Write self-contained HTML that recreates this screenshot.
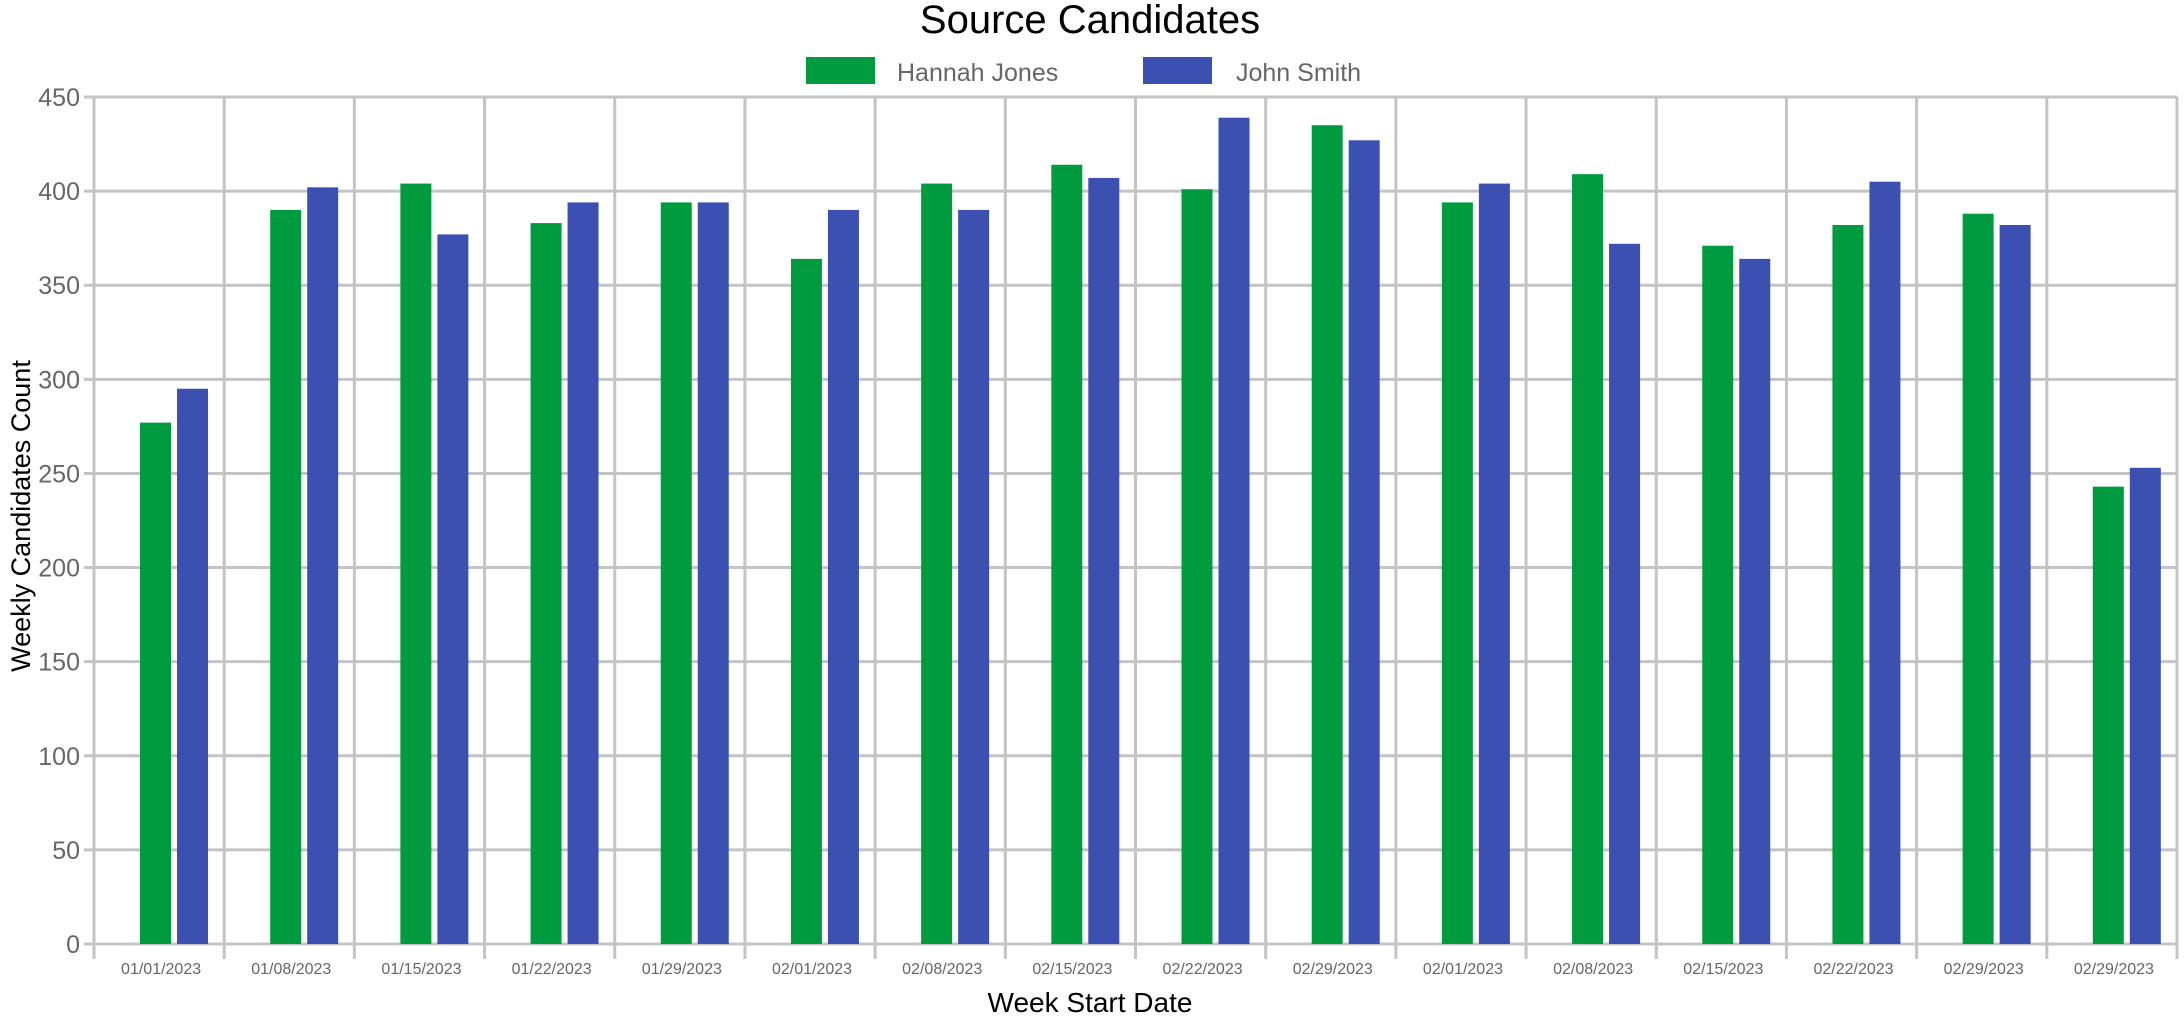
<!DOCTYPE html>
<html><head><meta charset="utf-8"><style>
html,body{margin:0;padding:0;background:#fff;}
svg{display:block;font-family:"Liberation Sans",sans-serif;}
</style></head><body>
<svg id="chart" width="2184" height="1019" viewBox="0 0 2184 1019">
<text x="1090" y="33" font-size="40" text-anchor="middle" fill="#000">Source Candidates</text>
<g>
<rect x="806" y="57" width="69" height="27" fill="#009b3e"/>
<text x="897" y="81" font-size="25" fill="#666">Hannah Jones</text>
<rect x="1143" y="57" width="69" height="27" fill="#3b50b0"/>
<text x="1236" y="81" font-size="25" fill="#666">John Smith</text>
</g>
<g id="grid"></g>
<g id="bars"></g>
<g id="labels"></g>
<text transform="translate(30,516) rotate(-90)" x="0" y="0" font-size="27" text-anchor="middle" fill="#000">Weekly Candidates Count</text>
<text x="1090" y="1012" font-size="28" text-anchor="middle" fill="#000">Week Start Date</text>
</svg>
<script>
const categories = ["01/01/2023","01/08/2023","01/15/2023","01/22/2023","01/29/2023","02/01/2023","02/08/2023","02/15/2023","02/22/2023","02/29/2023","02/01/2023","02/08/2023","02/15/2023","02/22/2023","02/29/2023","02/29/2023"];
const hannahJones = [277,390,404,383,394,364,404,414,401,435,394,409,371,382,388,243];
const johnSmith = [295,402,377,394,394,390,390,407,439,427,404,372,364,405,382,253];
const yTicks = [0,50,100,150,200,250,300,350,400,450];

const SVGNS = "http://www.w3.org/2000/svg";
const plotLeft = 94, plotRight = 2177, plotTop = 97, plotBottom = 944, yMax = 450;
const band = (plotRight - plotLeft) / categories.length;
function yScale(v){ return plotBottom - (v / yMax) * (plotBottom - plotTop); }
function xBand(i){ return plotLeft + i * band; }
function mk(tag, attrs, parent){ const e = document.createElementNS(SVGNS, tag); for (const k in attrs) e.setAttribute(k, attrs[k]); parent.appendChild(e); return e; }
const gridG = document.getElementById("grid"), barsG = document.getElementById("bars"), labelsG = document.getElementById("labels");

yTicks.forEach(t => {
  const l = mk("line", {x1: plotLeft - 10, x2: plotRight, y1: yScale(t), y2: yScale(t), stroke: "#c4c4c4", "stroke-width": 3}, gridG);
  
  
  const tx = mk("text", {x: 80, y: yScale(t) + 9, "font-size": 25, "text-anchor": "end", fill: "#666"}, labelsG);
  tx.textContent = t;
  
  
});
for (let i = 0; i <= categories.length; i++) {
  const l = mk("line", {x1: xBand(i), x2: xBand(i), y1: plotTop, y2: plotBottom + 15, stroke: "#c4c4c4", "stroke-width": 3}, gridG);
  
  
}
categories.forEach((c, i) => {
  const g = mk("rect", {x: xBand(i) + 46, y: yScale(hannahJones[i]), width: 31, height: plotBottom - yScale(hannahJones[i]), fill: "#009b3e"}, barsG);
  
  
  const b = mk("rect", {x: xBand(i) + 83, y: yScale(johnSmith[i]), width: 31, height: plotBottom - yScale(johnSmith[i]), fill: "#3b50b0"}, barsG);
  
  
  const tx = mk("text", {x: xBand(i) + band / 2 + 2, y: 974, "font-size": 16, "text-anchor": "middle", fill: "#666"}, labelsG);
  tx.textContent = c;
  
  
});
</script>
</body></html>
